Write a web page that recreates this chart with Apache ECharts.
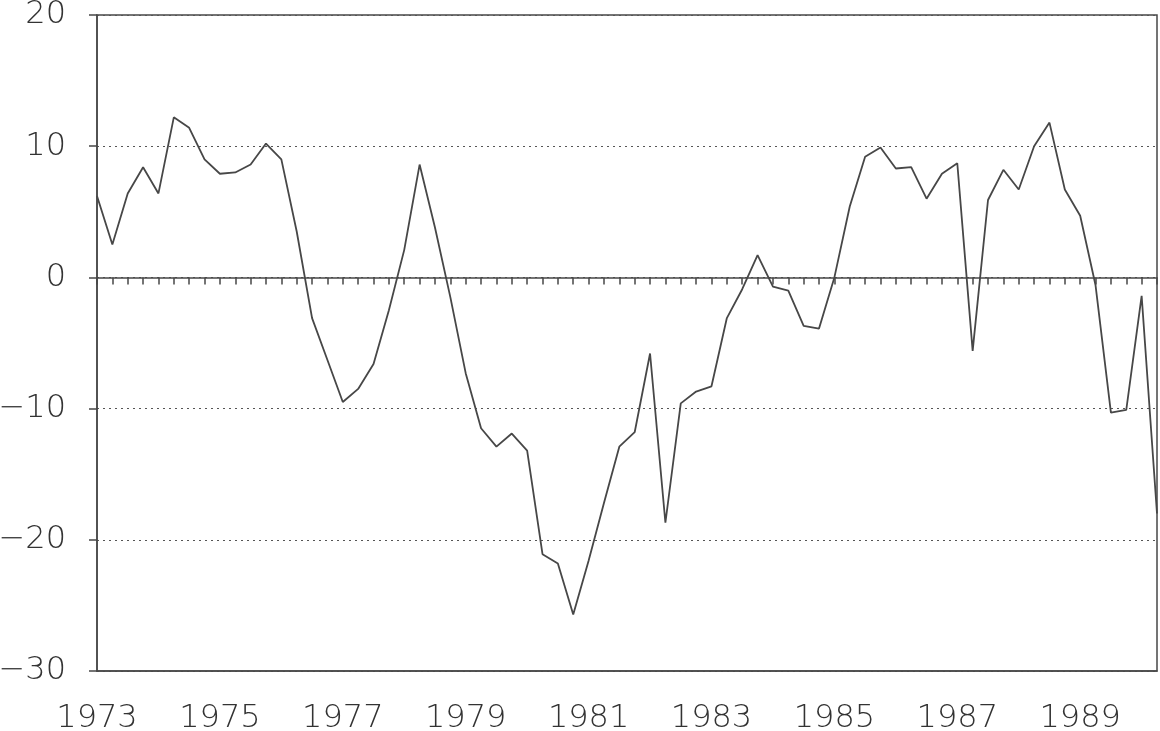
<!DOCTYPE html>
<html>
<head>
<meta charset="utf-8">
<script src="https://cdn.jsdelivr.net/npm/echarts@6/dist/echarts.min.js"></script>
<style>
  html, body { margin: 0; padding: 0; background: #fff; }
  #chart { width: 1160px; height: 731px; }
</style>
</head>
<body>
<div id="chart"></div>
<script>
// quarterly series, 1973Q1 .. 1990Q2
const startYear = 1973
const values = [
  6.2, 2.5, 6.4, 8.4, 6.4, 12.2, 11.4, 9.0, 7.9, 8.0, 8.6, 10.2,   // 1973-1975
  9.0, 3.5, -3.1, -6.3, -9.5, -8.5, -6.6, -2.5, 2.1, 8.6, 3.8, -1.5, // 1976-1978
  -7.3, -11.5, -12.9, -11.9, -13.2, -21.1, -21.8, -25.7, -21.6, -17.2, -12.9, -11.8, // 1979-1981
  -5.8, -18.7, -9.6, -8.7, -8.3, -3.1, -0.9, 1.7, -0.7, -1.0, -3.7, -3.9, // 1982-1984
  0.0, 5.4, 9.2, 9.9, 8.3, 8.4, 6.0, 7.9, 8.7, -5.6, 5.9, 8.2,        // 1985-1987
  6.7, 10.0, 11.8, 6.7, 4.7, -0.6, -10.3, -10.1, -1.4, -18.0          // 1988-1990
]
const yTicks = [-30, -20, -10, 0, 10, 20]
const xLabelYears = [1973, 1975, 1977, 1979, 1981, 1983, 1985, 1987, 1989]

const points = values.map((v, i) => [startYear + i / 4, v])
const xMax = startYear + (values.length - 1) / 4

const ink = '#474747'
const labelFont = {
  fontFamily: 'DejaVu Sans',
  fontWeight: 200,
  fontSize: 32,
  color: '#333'
}

const myChart = echarts.init(document.getElementById('chart'))
myChart.setOption({
  animation: false,
  backgroundColor: '#fff',
  grid: {
    left: 97,
    right: 3,
    top: 15,
    bottom: 60,
    outerBoundsMode: 'none',
    containLabel: false,
    show: true,
    borderColor: ink,
    borderWidth: 1.5
  },
  xAxis: [{
    // bottom axis: year labels only
    type: 'value',
    position: 'bottom',
    min: startYear,
    max: xMax,
    interval: 2,
    axisLine: { show: true, onZero: false, lineStyle: { color: ink, width: 1.5 } },
    axisTick: { show: false },
    splitLine: { show: false },
    axisLabel: {
      ...labelFont,
      margin: 32,
      showMaxLabel: false,
      formatter: v => xLabelYears.includes(v) ? String(v) : ''
    }
  }, {
    // zero line with quarterly ticks hanging below
    type: 'value',
    position: 'bottom',
    min: startYear,
    max: xMax,
    interval: 0.25,
    axisLine: { show: true, onZero: true, lineStyle: { color: ink, width: 1.5 } },
    axisTick: { show: true, inside: false, length: 7, lineStyle: { color: ink, width: 1.5 } },
    splitLine: { show: false },
    axisLabel: { show: false }
  }],
  yAxis: [{
    type: 'value',
    min: -30,
    max: 20,
    interval: 10,
    axisLine: { show: true, lineStyle: { color: ink, width: 1.5 } },
    axisTick: { show: true, inside: false, length: 8, lineStyle: { color: ink, width: 1.5 } },
    axisLabel: {
      ...labelFont,
      margin: 31,
      formatter: v => yTicks.includes(v) ? (v < 0 ? '\u2212' + Math.abs(v) : String(v)) : ''
    },
    splitLine: {
      show: true,
      lineStyle: { color: '#555', width: 1.2, type: [2, 4] }
    }
  }],
  series: [{
    type: 'line',
    xAxisIndex: 0,
    data: points,
    showSymbol: false,
    lineStyle: { color: ink, width: 1.8 }
  }]
})
window.addEventListener('resize', () => { myChart.resize() })
</script>
</body>
</html>
